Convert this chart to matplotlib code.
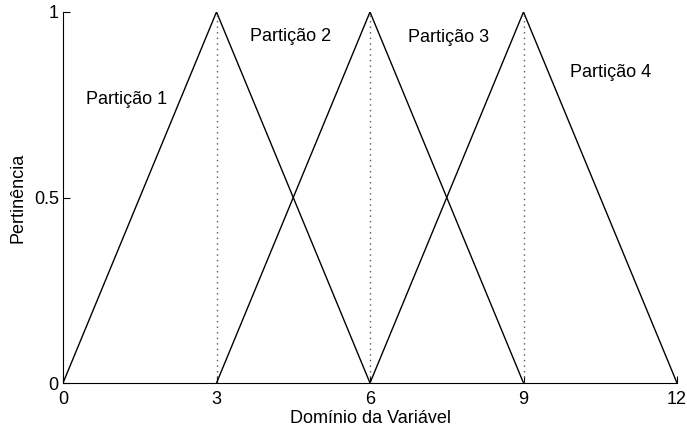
import matplotlib
matplotlib.use('Agg')
import matplotlib.pyplot as plt

plt.rcParams['font.family'] = ['Liberation Sans', 'DejaVu Sans']

# triangular membership functions: (start, peak, end)
parts = [(0, 3, 6), (3, 6, 9), (6, 9, 12)]
peaks = [3, 6, 9]
labels = ['Partição 1', 'Partição 2', 'Partição 3', 'Partição 4']
label_x = [1.25, 4.44, 7.54, 10.71]
label_y = [0.763, 0.935, 0.93, 0.838]
xticks = [0, 3, 6, 9, 12]
yticks = [0, 0.5, 1]

fig = plt.figure(figsize=(6.87, 4.30), dpi=100)
ax = fig.add_axes([63 / 687, 1 - 383 / 430, 614 / 687, 371 / 430])

for a, b, c in parts:
    ax.plot([a, b, c], [0, 1, 0], color='black', lw=1.0)
for p in peaks:
    ax.plot([p, p], [0, 1], color='#555555', lw=1.0, ls=(0, (1, 3)))

for t, x, y in zip(labels, label_x, label_y):
    ax.text(x, y, t, ha='center', va='center', fontsize=13)

ax.set_xlim(0, 12)
ax.set_ylim(0, 1)
ax.set_xticks(xticks)
ax.set_yticks(yticks)
ax.set_yticklabels(['0', '0.5', '1'])
ax.tick_params(direction='in', length=5, labelsize=13, width=0.8)
ax.tick_params(axis='x', pad=6)
ax.tick_params(axis='y', pad=3)
ax.spines['top'].set_visible(False)
ax.spines['right'].set_visible(False)
ax.set_xlabel('Domínio da Variável', fontsize=13, labelpad=1)
ax.set_ylabel('Pertinência', fontsize=13, labelpad=5)

fig.savefig('out.png', dpi=100)
